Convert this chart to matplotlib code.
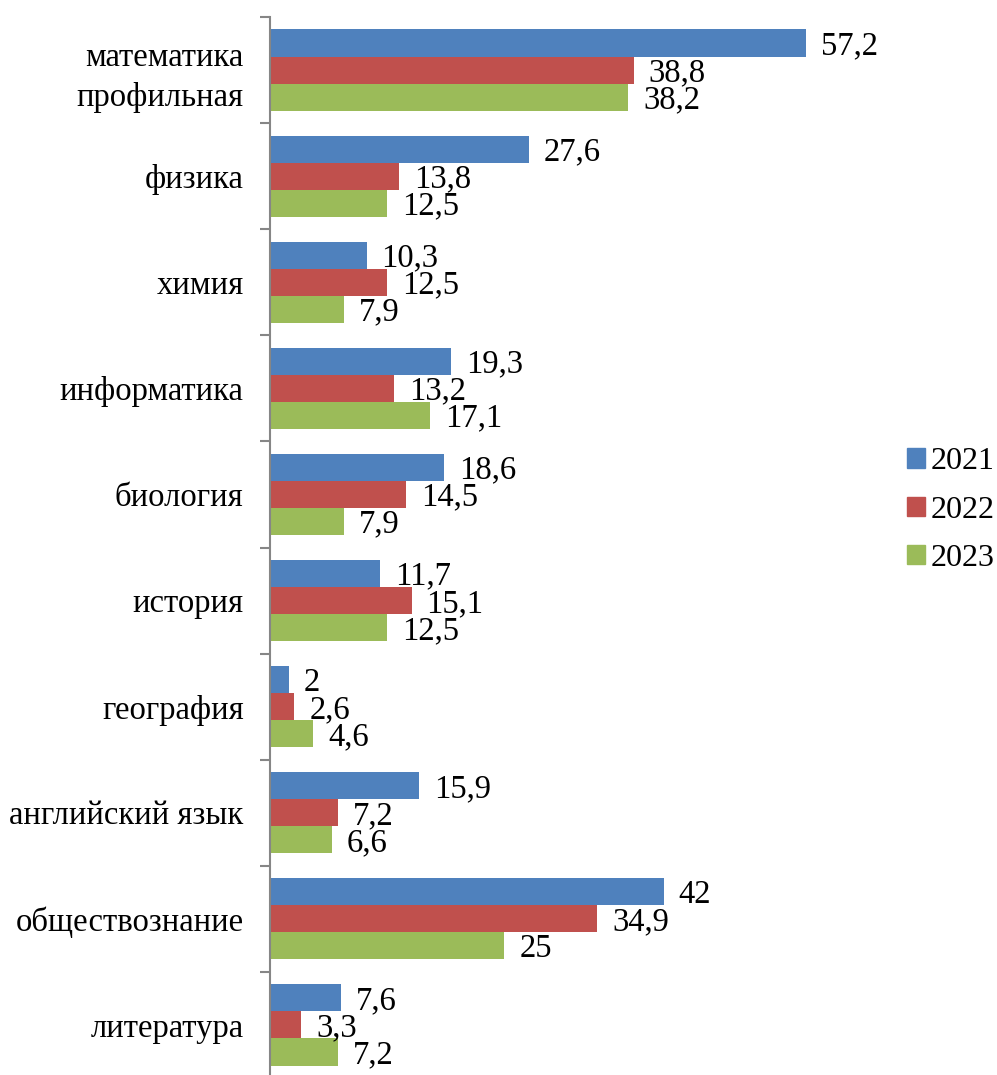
import matplotlib
matplotlib.use("Agg")
import matplotlib.pyplot as plt
import numpy as np

categories = ["математика\nпрофильная", "физика", "химия", "информатика", "биология",
              "история", "география", "английский язык", "обществознание", "литература"]
series_names = ["2021", "2022", "2023"]
v2021 = [57.2, 27.6, 10.3, 19.3, 18.6, 11.7, 2, 15.9, 42, 7.6]
v2022 = [38.8, 13.8, 12.5, 13.2, 14.5, 15.1, 2.6, 7.2, 34.9, 3.3]
v2023 = [38.2, 12.5, 7.9, 17.1, 7.9, 12.5, 4.6, 6.6, 25, 7.2]
colors = ["#4F81BD", "#C0504D", "#9BBB59"]

plt.rcParams['font.family'] = ['Liberation Serif', 'DejaVu Serif']

W, H = 997, 1075
FS = 23.5
fig = plt.figure(figsize=(W / 100, H / 100), dpi=100)
ax = fig.add_axes([270 / W, (H - 1078) / H, 600 / W, (1078 - 17) / H])

n = len(categories)
bh = 0.255
series = [v2021, v2022, v2023]
y = np.arange(n)
for i, (vals, c, name) in enumerate(zip(series, colors, series_names)):
    pos = y + (i - 1) * bh
    ax.barh(pos, vals, height=bh, color=c, label=name)
    for p, v in zip(pos, vals):
        txt = f"{v:g}".replace(".", ",")
        ax.annotate(txt, (v, p), xytext=(15, -3), textcoords="offset pixels",
                    ha="left", va="center", fontsize=FS)

ax.set_xlim(0, 64)
ax.set_ylim(n - 0.5, -0.5)
ax.set_yticks(y)
ax.set_yticklabels(categories, fontsize=FS, linespacing=1.35)
ax.set_yticks(np.arange(-0.5, n + 0.5, 1), minor=True)
ax.tick_params(axis="y", which="major", length=0, pad=19)
ax.tick_params(axis="y", which="minor", length=7, color="#868686", width=1.5)
ax.set_xticks([])
for s in ["top", "right", "bottom"]:
    ax.spines[s].set_visible(False)
ax.spines["left"].set_color("#868686")
ax.spines["left"].set_linewidth(1.5)

handles = [plt.Rectangle((0, 0), 1, 1, color=c) for c in colors]
fig.legend(handles, series_names, loc="center left", bbox_to_anchor=(907 / W, 1 - 510 / H),
           frameon=False, fontsize=23, handlelength=0.55, handleheight=0.55,
           handletextpad=0.2, labelspacing=0.6, borderpad=0, borderaxespad=0)

fig.savefig("out.png", dpi=100)
